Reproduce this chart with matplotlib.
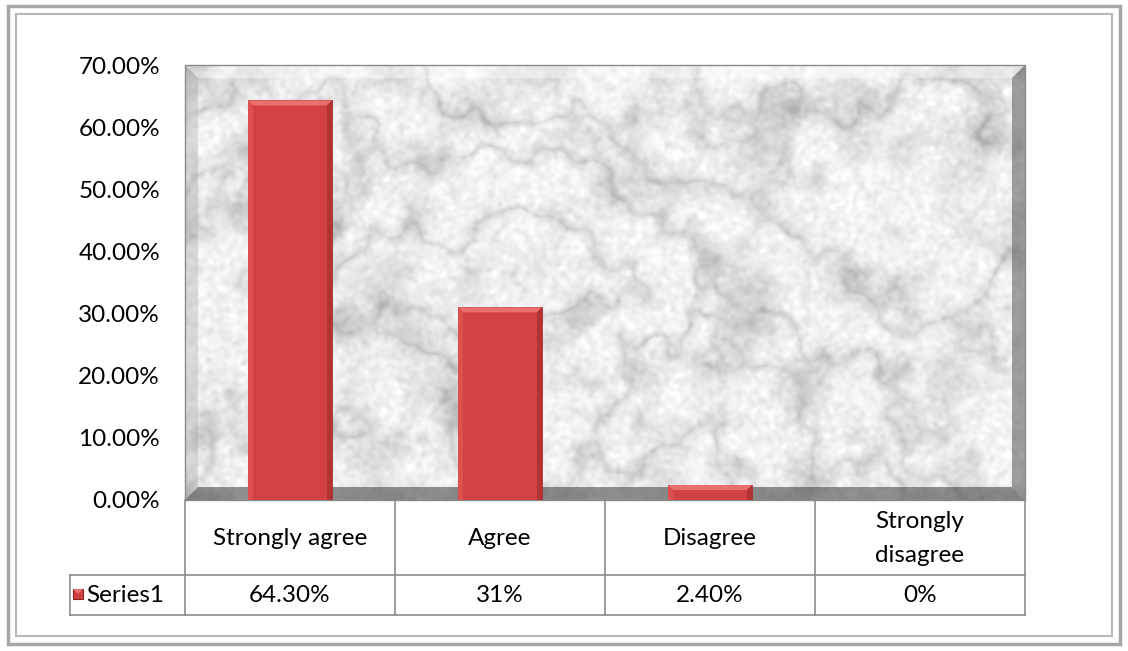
import numpy as np
import matplotlib
matplotlib.use("Agg")
import matplotlib.pyplot as plt
from matplotlib.patches import Rectangle, Polygon

plt.rcParams['font.family'] = ['Lato', 'DejaVu Sans']

categories = ['Strongly agree', 'Agree', 'Disagree', 'Strongly\ndisagree']
values = [64.3, 31.0, 2.4, 0.0]
value_labels = ['64.30%', '31%', '2.40%', '0%']
series_name = 'Series1'
yticks = [0, 10, 20, 30, 40, 50, 60, 70]

W, H = 1128, 651
fs = 17.5
fig = plt.figure(figsize=(W / 100, H / 100), dpi=100)
fig.patch.set_facecolor('white')

# pixel-space canvas for frame, marble wall and table
bg = fig.add_axes([0, 0, 1, 1])
bg.set_xlim(0, W)
bg.set_ylim(H, 0)
bg.axis('off')

# outer double frame
bg.add_patch(Rectangle((8, 6), W - 16, H - 13, fill=False, ec='#a6a6a6', lw=2.5))
bg.add_patch(Rectangle((16, 14), W - 32, H - 29, fill=False, ec='#b8b8b8', lw=1.5))

# plot area in pixels
px0, px1, py0, py1 = 185, 1025, 65, 500

# marble-ish texture from smoothed noise
rng = np.random.default_rng(11)
th, tw = py1 - py0, px1 - px0
def smooth_noise(scale):
    z = rng.standard_normal((th, tw))
    fy = np.fft.fftfreq(th)[:, None]
    fx = np.fft.fftfreq(tw)[None, :]
    k = np.exp(-(fx ** 2 + fy ** 2) * (scale ** 2) * 20)
    r = np.real(np.fft.ifft2(np.fft.fft2(z) * k))
    return r / r.std()
n = smooth_noise(70) + 0.5 * smooth_noise(25) + 0.3 * smooth_noise(8)
yy, xx = np.mgrid[0:th, 0:tw]
veins = np.abs(np.sin(xx * 0.009 - yy * 0.016 + 1.3 * n))
tex = (0.95 - 0.12 * (1 - veins) ** 2
       - 0.05 * np.clip(smooth_noise(15), 0, None)
       + 0.02 * smooth_noise(2))
tex = np.clip(tex, 0.62, 1.0)
bg.imshow(tex, cmap='gray', vmin=0, vmax=1, extent=(px0, px1, py1, py0),
          interpolation='bilinear', zorder=1, aspect='auto')

# bevel around the wall
b = 13
bg.add_patch(Polygon([(px0, py0), (px1, py0), (px1 - b, py0 + b), (px0 + b, py0 + b)],
                     fc='white', alpha=0.35, ec='none', zorder=2))
bg.add_patch(Polygon([(px0, py0), (px0 + b, py0 + b), (px0 + b, py1 - b), (px0, py1)],
                     fc='#9a9a9a', alpha=0.3, ec='none', zorder=2))
bg.add_patch(Polygon([(px1, py0), (px1, py1), (px1 - b, py1 - b), (px1 - b, py0 + b)],
                     fc='#555555', alpha=0.55, ec='none', zorder=2))
bg.add_patch(Polygon([(px0, py1), (px1, py1), (px1 - b, py1 - b), (px0 + b, py1 - b)],
                     fc='#4a4a4a', alpha=0.6, ec='none', zorder=2))
bg.add_patch(Rectangle((px0, py0), px1 - px0, py1 - py0, fill=False,
                       ec='#8a8a8a', lw=1, zorder=2))

# data table under the plot
col_w = (px1 - px0) / len(categories)
r0, r1, r2 = py1, 575, 615
lc = '#8c8c8c'
bg.plot([70, px1], [r1, r1], color=lc, lw=1.2)
bg.plot([70, px1], [r2, r2], color=lc, lw=1.2)
bg.plot([70, 70], [r1, r2], color=lc, lw=1.2)
for i in range(len(categories) + 1):
    x = px0 + i * col_w
    bg.plot([x, x], [r0, r2], color=lc, lw=1.2)
for i, (c, v) in enumerate(zip(categories, value_labels)):
    cx = px0 + (i + 0.5) * col_w
    bg.text(cx, (r0 + r1) / 2 + 1, c, ha='center', va='center', fontsize=fs,
            linespacing=1.8)
    bg.text(cx, (r1 + r2) / 2 + 1, v, ha='center', va='center', fontsize=fs)
bg.add_patch(Rectangle((73, 589), 10, 10, fc='#d04040', ec='#8f2424', lw=0.8))
bg.add_patch(Polygon([(73, 589), (83, 589), (78, 594)], fc='#e87070', ec='none'))
bg.text(86, (r1 + r2) / 2 + 1, series_name, ha='left', va='center', fontsize=fs)

# bars on the value axis
ax = fig.add_axes([px0 / W, 1 - py1 / H, (px1 - px0) / W, (py1 - py0) / H])
ax.patch.set_alpha(0)
x = np.arange(len(categories))
bw = 0.4
ax.bar(x, values, width=bw, color='#d24242', ec='#a83030', lw=0.6, zorder=3)
# bevelled top and side faces of each bar
ex, ey = 0.024, 0.8
for xi, v in zip(x, values):
    if v <= 0:
        continue
    l, r = xi - bw / 2, xi + bw / 2
    e = min(ey, v / 2)
    ax.add_patch(Polygon([(l, v), (r, v), (r - ex, v - e), (l + ex, v - e)],
                         fc='#ec6f6f', ec='none', zorder=4))
    ax.add_patch(Polygon([(l, v), (l + ex, v - e), (l + ex, 0), (l, 0)],
                         fc='#dc5050', ec='none', zorder=4))
    ax.add_patch(Polygon([(r, v), (r - ex, v - e), (r - ex, 0), (r, 0)],
                         fc='#b33232', ec='none', zorder=4))
ax.set_xlim(-0.5, len(categories) - 0.5)
ax.set_ylim(0, 70)
ax.set_yticks(yticks)
ax.set_yticklabels([f'{t:.2f}%' for t in yticks], fontsize=fs)
ax.set_xticks([])
ax.tick_params(axis='y', length=0, pad=18)
for s in ax.spines.values():
    s.set_visible(False)

fig.savefig('out.png', dpi=100)
